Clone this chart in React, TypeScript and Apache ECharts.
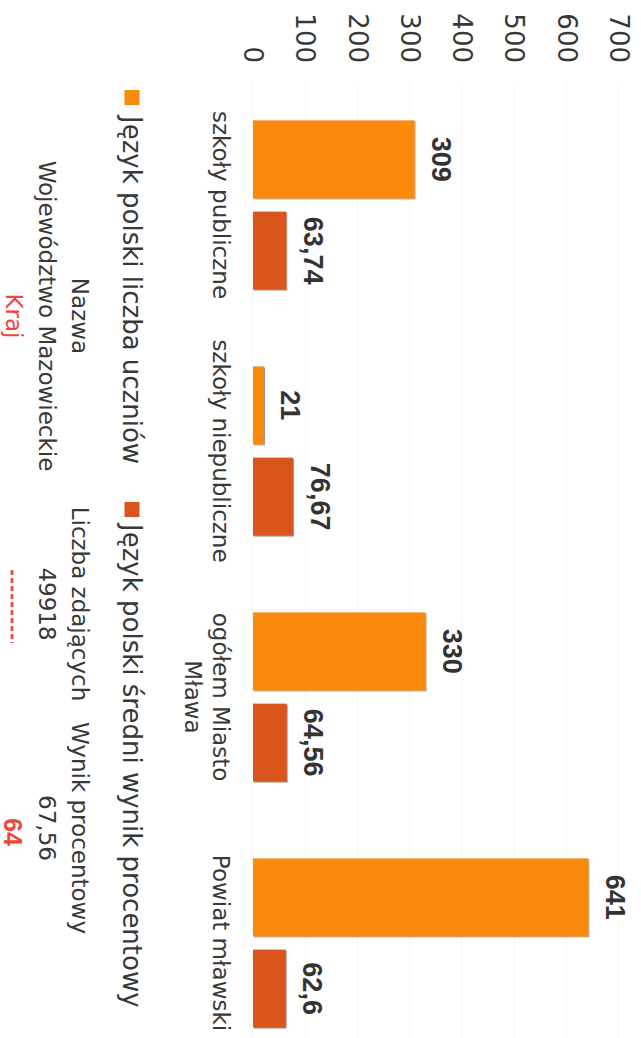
import React, { useEffect, useRef } from "react";
import * as echarts from "echarts";

const categories = ["szkoły publiczne", "szkoły niepubliczne", "ogółem Miasto\nMława", "Powiat mławski"];
const studentCounts = [309, 21, 330, 641];
const avgScores = [63.74, 76.67, 64.56, 62.6];
const seriesNames = ["Język polski liczba uczniów", "Język polski średni wynik procentowy"];
const axisMin = 0;
const axisMax = 700;
const axisStep = 100;
const tableHeader = ["Nazwa", "Liczba zdających", "Wynik procentowy"];
const tableRow = ["Województwo Mazowieckie", "49918", "67,56"];
const countryLabel = "Kraj";
const countryScore = "64";

const ORANGE = "#F98A0C";
const DARK = "#DA541F";
const RED = "#EE4638";
const TEXT = "#383838";
const FONT = "DejaVu Sans";

const fmt = (v: number) => String(v).replace(".", ",");

export default function App() {
  const ref = useRef<HTMLDivElement>(null);
  useEffect(() => {
    if (!ref.current) return;
    const chart = echarts.init(ref.current, undefined, { renderer: "svg" });
    const colX = [316, 604, 828];
    const barStyle = (color: string) => ({
      color,
      shadowColor: "rgba(60,30,0,0.45)",
      shadowBlur: 1,
      shadowOffsetX: 1,
      shadowOffsetY: -1,
    });
    const valueLabel = {
      show: true,
      position: "top",
      distance: 13,
      fontFamily: "Liberation Sans",
      fontWeight: "bold",
      fontSize: 27,
      color: "#333",
      formatter: (p: any) => fmt(p.value),
    };
    const textStyleBase = { fontFamily: FONT, fontSize: 23, fill: TEXT, textAlign: "center", textVerticalAlign: "middle" };
    chart.setOption({
      animation: false,
      backgroundColor: "#fff",
      grid: { left: 82, right: -28, top: 22, bottom: 253, containLabel: false, outerBoundsMode: "none" },
      legend: [
        {
          data: [seriesNames[0]],
          left: 85,
          top: 491,
          itemWidth: 15,
          itemHeight: 15,
          icon: "rect",
          textStyle: { fontFamily: FONT, fontSize: 26, color: TEXT, padding: [0, 0, 0, 6] },
        },
        {
          data: [seriesNames[1]],
          left: 497,
          top: 491,
          itemWidth: 15,
          itemHeight: 15,
          icon: "rect",
          textStyle: { fontFamily: FONT, fontSize: 26, color: TEXT, padding: [0, 0, 0, 2] },
        },
      ],
      xAxis: {
        type: "category",
        data: categories,
        axisLine: { show: false },
        axisTick: { show: false },
        axisLabel: { fontFamily: FONT, fontSize: 23, color: TEXT, margin: 18, lineHeight: 28, interval: 0 },
      },
      yAxis: {
        type: "value",
        min: axisMin,
        max: axisMax,
        interval: axisStep,
        axisLine: { show: false },
        axisTick: { show: false },
        axisLabel: { fontFamily: FONT, fontSize: 26, color: TEXT, margin: 19 },
        splitLine: { lineStyle: { color: "#f7f7f7", width: 1 } },
      },
      series: [
        {
          name: seriesNames[0],
          type: "bar",
          data: studentCounts,
          barWidth: 78,
          barGap: "17%",
          itemStyle: barStyle(ORANGE),
          label: valueLabel,
        },
        {
          name: seriesNames[1],
          type: "bar",
          data: avgScores,
          barWidth: 78,
          barGap: "17%",
          itemStyle: barStyle(DARK),
          label: valueLabel,
        },
      ],
      graphic: [
        ...tableHeader.map((t, i) => ({ type: "text", x: colX[i], y: 561, style: { ...textStyleBase, text: t } })),
        ...tableRow.map((t, i) => ({ type: "text", x: colX[i], y: 594, style: { ...textStyleBase, text: t } })),
        { type: "text", x: colX[0], y: 627, style: { ...textStyleBase, text: countryLabel, fill: RED } },
        {
          type: "line",
          shape: { x1: 570, y1: 629, x2: 643, y2: 629 },
          style: { stroke: "#DA5A52", lineWidth: 3, lineDash: [5, 3] },
        },
        {
          type: "text",
          x: colX[2] + 4,
          y: 628,
          style: { ...textStyleBase, text: countryScore, fill: RED, fontFamily: "Liberation Sans", fontWeight: "bold", fontSize: 25 },
        },
      ],
    });
    return () => chart.dispose();
  }, []);
  return (
    <div style={{ position: "fixed", left: 0, top: 0, width: 641, height: 1038, overflow: "hidden", background: "#fff" }}>
      <div
        ref={ref}
        style={{
          position: "absolute",
          left: 0,
          top: 0,
          width: 1038,
          height: 641,
          transformOrigin: "0 0",
          transform: "translateX(641px) rotate(90deg)",
        }}
      />
    </div>
  );
}
